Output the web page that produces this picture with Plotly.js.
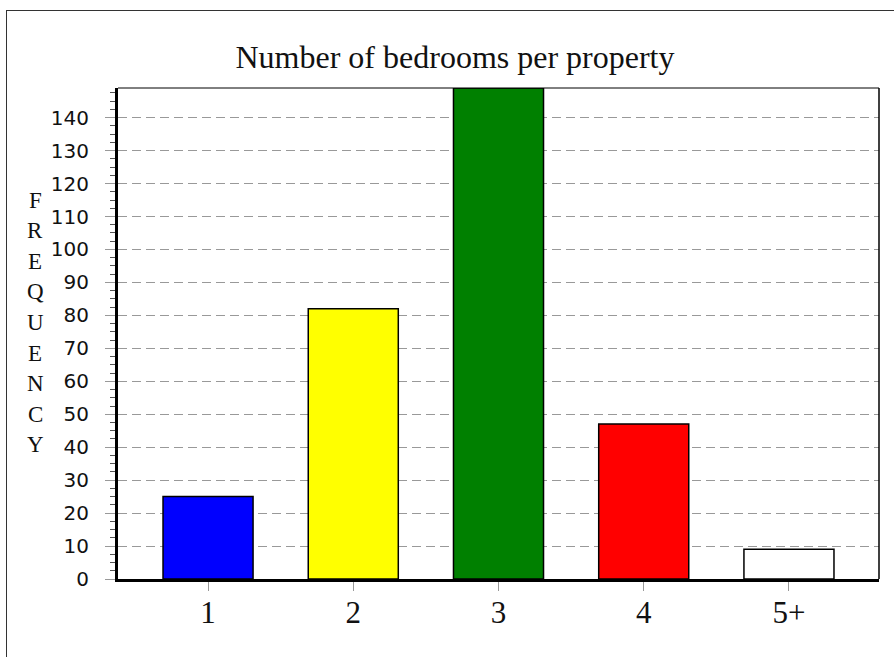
<!DOCTYPE html>
<html>
<head>
<meta charset="utf-8">
<script src="https://cdn.plot.ly/plotly-3.0.1.min.js"></script>
<style>
  html, body { margin: 0; padding: 0; background: #ffffff; }
  #wrap { position: relative; width: 894px; height: 657px; overflow: hidden; }
  #frame { position: absolute; left: 6px; top: 10px; width: 1000px; height: 1000px;
           border-left: 1.5px solid #333; border-top: 1.5px solid #333; }
  #chart { position: absolute; left: 0; top: 0; width: 894px; height: 657px; }
</style>
</head>
<body>
<div id="wrap">
  <div id="frame"></div>
  <div id="chart"></div>
</div>
<script>
// ---- data ----
const categories = ["1", "2", "3", "4", "5+"];
const frequencies = [25, 82, 149, 47, 9];
const barColors = ["#0000ff", "#ffff00", "#008000", "#ff0000", "#ffffff"];
const yTickValues = [0, 10, 20, 30, 40, 50, 60, 70, 80, 90, 100, 110, 120, 130, 140];
const chartTitle = "Number of bedrooms per property";
const yTitle = "FREQUENCY";

// ---- layout helpers ----
const W = 894, H = 657;
const plotL = 118, plotR = 879, plotT = 88, plotB = 579;

const letterAnnotations = yTitle.split("").map((ch, i) => ({
  text: ch,
  xref: "paper", yref: "paper",
  x: (35 - plotL) / (plotR - plotL),
  y: (plotB - (200 + i * 30.6)) / (plotB - plotT),
  xanchor: "center", yanchor: "middle",
  showarrow: false,
  font: { family: "Liberation Serif, Times New Roman, serif", size: 23, color: "#111" }
}));

const trace = {
  type: "bar",
  x: categories,
  y: frequencies,
  width: 0.62,
  marker: { color: barColors, line: { color: "#000", width: 1.5 } },
  hoverinfo: "x+y"
};

const layout = {
  width: W, height: H,
  margin: { l: plotL, r: W - plotR, t: plotT, b: H - plotB, pad: 0 },
  paper_bgcolor: "rgba(0,0,0,0)",
  plot_bgcolor: "#ffffff",
  showlegend: false,
  title: {
    text: chartTitle,
    font: { family: "Liberation Serif, Times New Roman, serif", size: 32, color: "#111" },
    xref: "container", yref: "container",
    x: 455 / W, y: 1 - 57 / H, xanchor: "center", yanchor: "middle"
  },
  xaxis: {
    type: "category",
    range: [-0.62, 4.62],
    showgrid: false,
    zeroline: false,
    showline: true, linecolor: "#000", linewidth: 3,
    ticks: "outside", ticklen: 9, tickcolor: "#999", tickwidth: 1,
    ticklabelstandoff: -5,
    tickfont: { family: "Liberation Serif, Times New Roman, serif", size: 31, color: "#111" },
    fixedrange: true
  },
  yaxis: {
    range: [0, 149],
    tickvals: yTickValues,
    ticktext: yTickValues.map(String),
    showgrid: true, gridcolor: "#999", gridwidth: 1, griddash: "9px,5px",
    zeroline: false,
    showline: true, linecolor: "#000", linewidth: 3,
    ticks: "outside", ticklen: 10, tickcolor: "#999", tickwidth: 1,
    ticklabelstandoff: 12,
    tickfont: { family: "DejaVu Sans, Verdana, sans-serif", size: 20, color: "#111" },
    minor: { dtick: 2.5, ticks: "outside", ticklen: 5, tickcolor: "#555", tickwidth: 1, showgrid: false },
    fixedrange: true
  },
  shapes: [
    { type: "line", xref: "paper", yref: "paper", x0: 0, x1: 1, y0: 1, y1: 1, line: { color: "#000", width: 1 } },
    { type: "line", xref: "paper", yref: "paper", x0: 1, x1: 1, y0: 0, y1: 1, line: { color: "#000", width: 1.5 } }
  ],
  annotations: letterAnnotations
};

Plotly.newPlot("chart", [trace], layout, { displayModeBar: false, staticPlot: true });
</script>
</body>
</html>
